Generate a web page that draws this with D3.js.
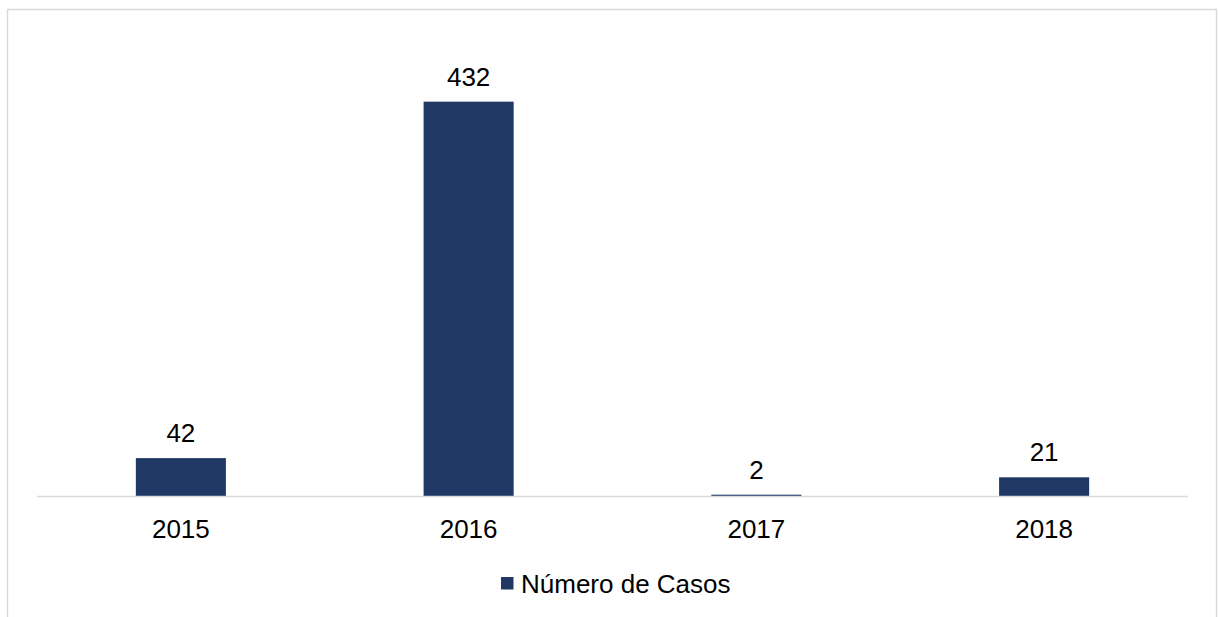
<!DOCTYPE html>
<html>
<head>
<meta charset="utf-8">
<script src="https://cdn.jsdelivr.net/npm/d3@7"></script>
<style>
  html, body { margin: 0; padding: 0; background: #fff; }
  svg { display: block; font-family: Arial, "Liberation Sans", sans-serif; }
</style>
</head>
<body>
<svg id="chart" width="1218" height="617"></svg>
<script>
// Casos registrados por año
const years = ["2015", "2016", "2017", "2018"];
const cases = [42, 432, 2, 21];
const seriesName = "Número de Casos";

const barColor = "#203864";
const gridColor = "#d9d9d9";

const svg = d3.select("#chart");

// Chart frame
svg.append("rect")
  .attr("x", 7.5).attr("y", 9.5)
  .attr("width", 1209).attr("height", 640)
  .attr("fill", "#fff")
  .attr("stroke", gridColor).attr("stroke-width", 1.5);

const x = d3.scaleBand()
  .domain(years)
  .range([37, 1188])
  .paddingInner(0.687)
  .paddingOuter(0.3435);

const y = d3.scaleLinear()
  .domain([0, 500])
  .range([496.5, 39.5]);

// Bars
svg.append("g").selectAll("rect")
  .data(years)
  .join("rect")
  .attr("x", d => x(d))
  .attr("width", x.bandwidth())
  .attr("y", (d, i) => y(cases[i]))
  .attr("height", (d, i) => y(0) - y(cases[i]))
  .attr("fill", barColor);

// Value labels
svg.append("g").selectAll("text")
  .data(years)
  .join("text")
  .attr("x", d => x(d) + x.bandwidth() / 2)
  .attr("y", (d, i) => y(cases[i]) - 16)
  .attr("text-anchor", "middle")
  .attr("font-size", 26)
  .attr("fill", "#000")
  .text((d, i) => cases[i]);

// Category axis
const axis = svg.append("g")
  .attr("transform", `translate(0,${y(0)})`)
  .call(d3.axisBottom(x).tickSize(0).tickPadding(0));
axis.select(".domain")
  .attr("stroke", gridColor).attr("stroke-width", 1.5)
  .attr("d", "M37,0H1188");
axis.selectAll(".tick text")
  .attr("font-size", 26)
  .attr("font-family", "Arial, 'Liberation Sans', sans-serif")
  .attr("fill", "#000")
  .attr("dy", null)
  .attr("y", 41);

// Legend
const legend = svg.append("g").attr("transform", "translate(501,577)");
legend.append("rect")
  .attr("width", 12.5).attr("height", 12.5)
  .attr("fill", barColor);
legend.append("text")
  .attr("x", 20).attr("y", 15.5)
  .attr("font-size", 26)
  .attr("fill", "#000")
  .text(seriesName);
</script>
</body>
</html>
